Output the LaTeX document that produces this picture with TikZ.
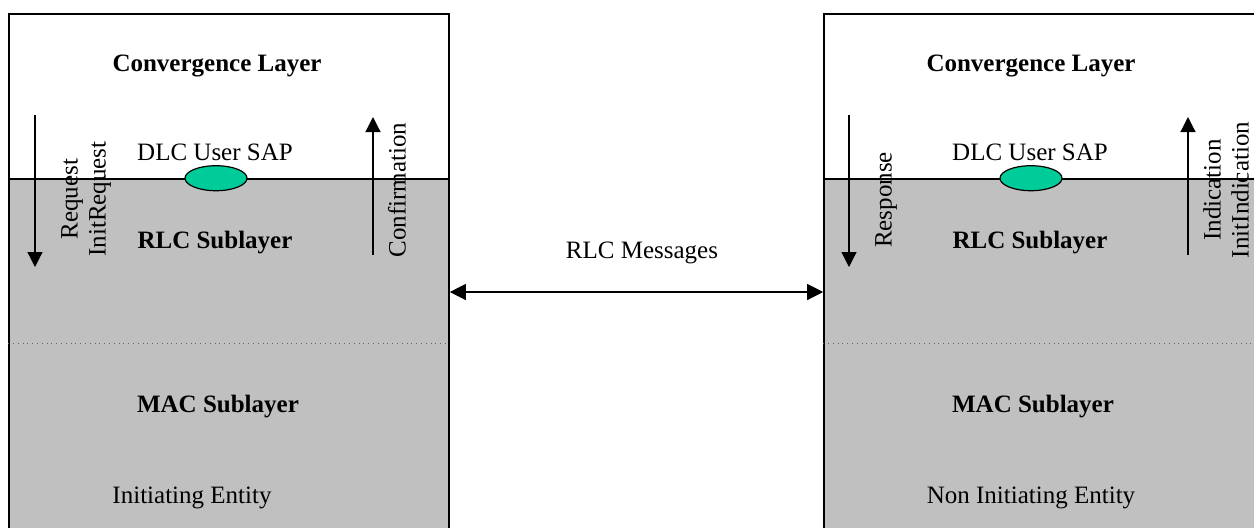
\documentclass[tikz,border=0pt]{standalone}
\usepackage{fontspec}
\setmainfont{Liberation Serif}
\usepackage{tikz}
\usetikzlibrary{arrows.meta,positioning,calc,shapes.geometric}
\definecolor{layergray}{HTML}{C0C0C0}
\definecolor{sapgreen}{HTML}{00CC99}
\tikzset{layer/.style={rectangle,draw,line width=.8pt,inner sep=0pt,minimum width=220pt},sap/.style={ellipse,draw,fill=sapgreen,minimum width=31pt,minimum height=12.5pt,inner sep=0pt,line width=.6pt},prim/.style={-{Triangle[length=7.5pt,width=7.5pt]},line width=.6pt},lbl/.style={inner sep=0pt,font=\fontsize{12.5}{14}\selectfont},title/.style={inner sep=0pt,font=\fontsize{12.5}{14}\selectfont\bfseries}}

\begin{document}
\begin{tikzpicture}[x=0.5pt,y=-0.5pt]
\useasboundingbox (0,0) rectangle (1254,527);
\clip (0,0) rectangle (1254,527);
% initiating entity
\node[layer,minimum height=82.5pt,fill=white] (iconv) at (229,96.5) {};
\node[layer,minimum height=190.5pt,fill=layergray] (ilow) at (229,369.5) {};
\draw[dotted,black!60] (ilow.west |- 0,343) -- (ilow.east |- 0,343);
\node[sap] (isap) at (ilow.north -| 216,0) {};
\node[title] (iconvlbl) at (217,66) {Convergence Layer};
\node[lbl] (isaplbl) at (215,152) {DLC User SAP};
\node[title] (irlc) at (215,243) {RLC Sublayer};
\node[title] (imac) at (218,407) {MAC Sublayer};
\node[lbl] (iname) at (192,498) {Initiating Entity};
\coordinate (reqtop) at (35,115);
\coordinate (reqbot) at (35,267);
\draw[prim] (reqtop) -- (reqbot);
\node[lbl,rotate=90,align=center] (reqlbl) at (86,199) {Request\\InitRequest};
\coordinate (cnfbot) at (373,255);
\coordinate (cnftop) at (373,117);
\draw[prim] (cnfbot) -- (cnftop);
\node[lbl,rotate=90] (cnflbl) at (397,190) {Confirmation};
% non initiating entity
\node[layer,minimum height=82.5pt,fill=white] (nconv) at (1044,96.5) {};
\node[layer,minimum height=190.5pt,fill=layergray] (nlow) at (1044,369.5) {};
\draw[dotted,black!60] (nlow.west |- 0,343) -- (nlow.east |- 0,343);
\node[sap] (nsap) at (nlow.north -| 1031,0) {};
\node[title] (nconvlbl) at (1031,66) {Convergence Layer};
\node[lbl] (nsaplbl) at (1030,152) {DLC User SAP};
\node[title] (nrlc) at (1030,243) {RLC Sublayer};
\node[title] (nmac) at (1033,407) {MAC Sublayer};
\node[lbl] (nname) at (1031,498) {Non Initiating Entity};
\coordinate (rsptop) at (849,115);
\coordinate (rspbot) at (849,267);
\draw[prim] (rsptop) -- (rspbot);
\node[lbl,rotate=90] (rsplbl) at (886,200) {Response};
\coordinate (indbot) at (1188,255);
\coordinate (indtop) at (1188,117);
\draw[prim] (indbot) -- (indtop);
\node[lbl,rotate=90,align=center] (indlbl) at (1226,190) {Indication\\InitIndication};
% peer messages
\draw[{Triangle[length=8pt,width=8pt]}-{Triangle[length=8pt,width=8pt]},line width=.6pt] (ilow.east |- 0,292) -- (nlow.west |- 0,292);
\node[lbl] (msglbl) at (642,253) {RLC Messages};
\end{tikzpicture}
\end{document}
